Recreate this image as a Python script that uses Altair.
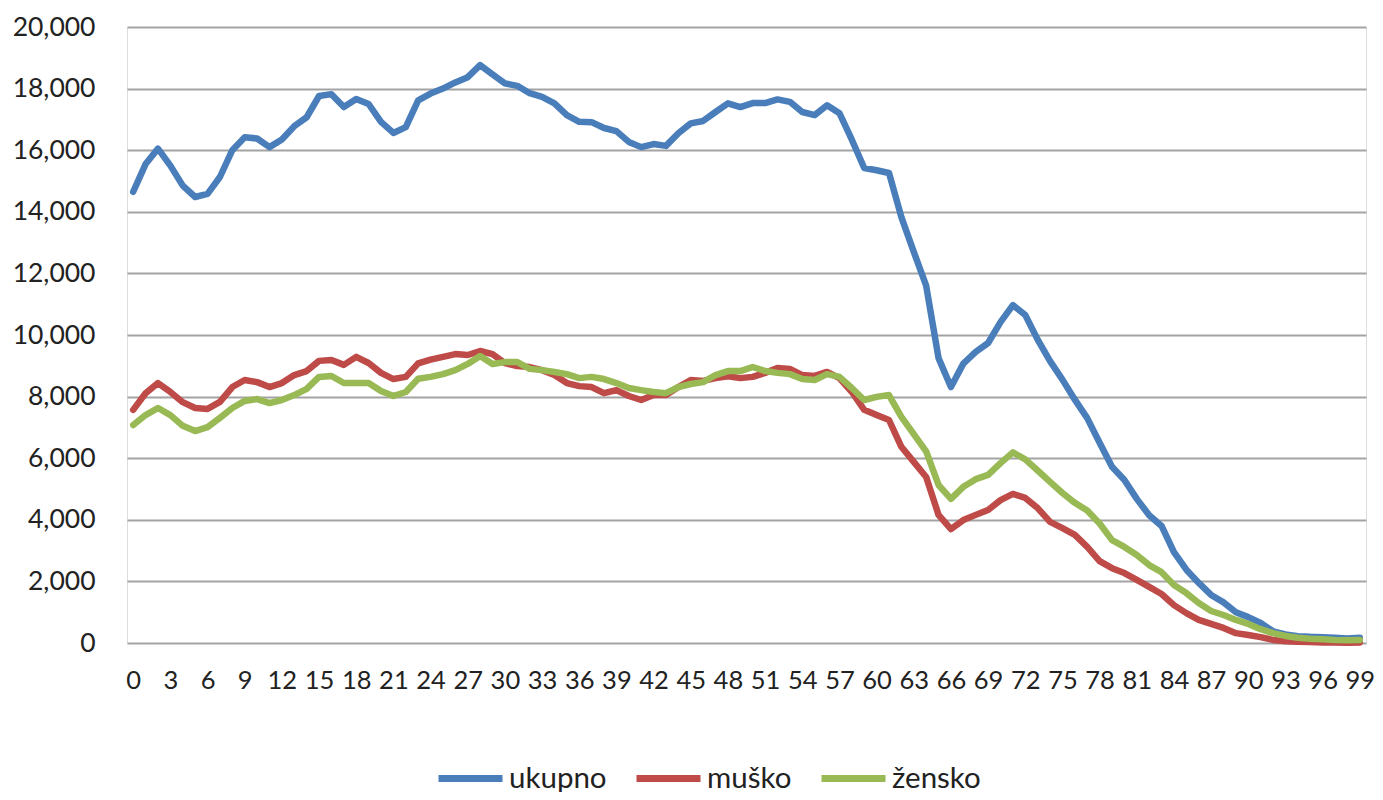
import altair as alt
import pandas as pd

ages = list(range(100))

ukupno = [14650, 15550, 16050, 15500, 14850, 14480, 14580, 15130, 16000, 16420,
          16380, 16100, 16350, 16780, 17070, 17760, 17820, 17400, 17660, 17500,
          16920, 16560, 16750, 17620, 17840, 18000, 18200, 18370, 18760, 18460,
          18170, 18090, 17850, 17730, 17520, 17140, 16920, 16910, 16720, 16620,
          16270, 16100, 16200, 16140, 16550, 16870, 16950, 17240, 17520, 17400,
          17530, 17530, 17650, 17570, 17240, 17140, 17460, 17200, 16340, 15420,
          15350, 15260, 13830, 12700, 11600, 9250, 8310, 9070, 9450, 9740,
          10420, 10970, 10650, 9850, 9150, 8550, 7900, 7300, 6500, 5720,
          5290, 4680, 4150, 3800, 2950, 2380, 1950, 1560, 1320, 1000,
          840, 650, 380, 280, 220, 200, 190, 170, 150, 170]

musko = [7570, 8110, 8440, 8150, 7820, 7630, 7600, 7830, 8310, 8540,
         8470, 8310, 8440, 8700, 8830, 9160, 9190, 9030, 9290, 9090,
         8770, 8570, 8640, 9080, 9200, 9290, 9380, 9350, 9480, 9380,
         9090, 8990, 8960, 8860, 8700, 8440, 8340, 8310, 8110, 8210,
         8020, 7890, 8050, 8050, 8310, 8540, 8510, 8600, 8660, 8600,
         8640, 8770, 8930, 8900, 8700, 8670, 8800, 8600, 8150, 7570,
         7400, 7240, 6370, 5880, 5390, 4160, 3700, 3990, 4160, 4320,
         4640, 4840, 4710, 4380, 3930, 3730, 3510, 3120, 2660, 2430,
         2270, 2050, 1820, 1590, 1230, 970, 750, 620, 490, 320,
         260, 190, 100, 60, 40, 30, 20, 20, 10, 20]

zensko = [7080, 7400, 7630, 7400, 7050, 6880, 7010, 7310, 7630, 7860,
          7920, 7790, 7890, 8050, 8250, 8640, 8670, 8440, 8440, 8440,
          8180, 8020, 8150, 8580, 8640, 8730, 8860, 9060, 9320, 9060,
          9120, 9120, 8900, 8860, 8800, 8730, 8600, 8640, 8570, 8440,
          8280, 8210, 8150, 8110, 8310, 8410, 8470, 8700, 8830, 8830,
          8960, 8830, 8770, 8730, 8570, 8540, 8730, 8640, 8280, 7890,
          7990, 8050, 7340, 6780, 6220, 5130, 4680, 5070, 5320, 5460,
          5840, 6190, 5960, 5600, 5230, 4870, 4550, 4300, 3880, 3340,
          3120, 2860, 2530, 2300, 1880, 1620, 1300, 1040, 910, 750,
          620, 450, 320, 230, 170, 140, 120, 100, 90, 100]

series_names = ["ukupno", "muško", "žensko"]
series_colors = ["#4a7ebb", "#be4b48", "#98b954"]
x_ticks = list(range(0, 100, 3))
y_ticks = list(range(0, 20001, 2000))

FONT = "Lato"

frames = []
for name, vals in zip(series_names, [ukupno, musko, zensko]):
    frames.append(pd.DataFrame({"age": ages, "value": vals, "series": name}))

color = alt.Color(
    "series:N",
    scale=alt.Scale(domain=series_names, range=series_colors),
    legend=alt.Legend(
        title=None,
        orient="none",
        direction="horizontal",
        legendX=308,
        legendY=716,
        symbolType="stroke",
        symbolSize=4096,
        symbolStrokeWidth=7,
        labelFontSize=29.5,
        labelFont=FONT,
        labelColor="#222222",
        labelOffset=3,
        columnPadding=15,
        padding=0,
    ),
)

x = alt.X(
    "age:Q",
    scale=alt.Scale(domain=[-0.5, 99.5], nice=False, zero=False),
    axis=alt.Axis(
        values=x_ticks,
        title=None,
        grid=False,
        ticks=False,
        domain=False,
        labelFontSize=25.5,
        labelFont=FONT,
        labelColor="#222222",
        labelPadding=25,
        labelFlush=False,
        labelOverlap=False,
    ),
)
y = alt.Y(
    "value:Q",
    scale=alt.Scale(domain=[0, 20000], nice=False),
    axis=alt.Axis(
        values=y_ticks,
        format=",d",
        title=None,
        ticks=False,
        domain=False,
        gridColor="#a3a3a3",
        gridWidth=2,
        labelFontSize=26.5,
        labelFont=FONT,
        labelColor="#222222",
        labelPadding=32,
    ),
)

layers = [
    alt.Chart(df).mark_line(strokeWidth=6.5, strokeJoin="round", strokeCap="round").encode(
        x=x, y=y, color=color
    )
    for df in frames
]

chart = (
    alt.layer(*layers)
    .properties(
        width=1239,
        height=616,
        padding={"left": 119, "top": 19, "right": 9, "bottom": 149},
        autosize=alt.AutoSizeParams(type="none"),
    )
    .configure_view(stroke=None)
    .configure(background="white")
)

chart.save("out.html", embed_options={"renderer": "svg", "actions": False})
